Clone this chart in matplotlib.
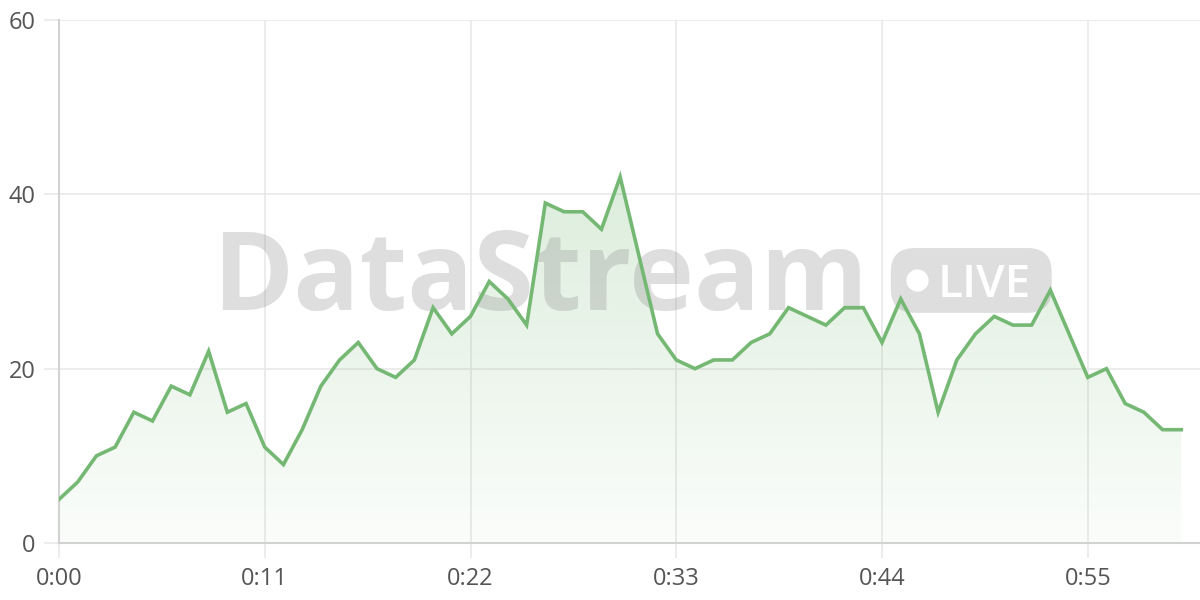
import numpy as np
import matplotlib.pyplot as plt
from matplotlib.patches import FancyBboxPatch
from matplotlib.ticker import MultipleLocator, FuncFormatter

# dados (um ponto por segundo)
segundos = list(range(61))
valores = [5, 7, 10, 11, 15, 14, 18, 17, 22, 15,
           16, 11, 9, 13, 18, 21, 23, 20, 19, 21,
           27, 24, 26, 30, 28, 25, 39, 38, 38, 36,
           42, 33, 24, 21, 20, 21, 21, 23, 24, 27,
           26, 25, 27, 27, 23, 28, 24, 15, 21, 24,
           26, 25, 25, 29, 24, 19, 20, 16, 15, 13, 13]
y_ticks = [0, 20, 40, 60]

cor_linha = "#74b874"
cor_grade = "#e9e9e9"
cor_eixo = "#d2d2d2"
cor_texto = "#555555"
fonte = ["Open Sans", "DejaVu Sans"]

fig = plt.figure(figsize=(12, 6), dpi=100)
fig.patch.set_facecolor("white")
ax = fig.add_axes([59 / 1200, 57 / 600, 1141 / 1200, 523 / 600])

x = np.array(segundos, dtype=float)
y = np.array(valores, dtype=float)

ax.set_xlim(0, 61)
ax.set_ylim(0, 60)

# preenchimento em degradê
ymax = y.max()
grad = np.linspace(0.03, 0.25, 256).reshape(-1, 1)
rgba = np.zeros((256, 1, 4))
rgba[..., 0] = 0x74 / 255
rgba[..., 1] = 0xb8 / 255
rgba[..., 2] = 0x74 / 255
rgba[..., 3] = grad
img = ax.imshow(rgba, extent=[x[0], x[-1], 0, ymax], origin="lower",
                aspect="auto", zorder=1, interpolation="bilinear")
poly = ax.fill_between(x, y, 0, color="none", lw=0)
clip = poly.get_paths()[0]
img.set_clip_path(clip, transform=ax.transData)

ax.plot(x, y, color=cor_linha, linewidth=2.6, zorder=4,
        solid_joinstyle="miter")

# grade
ax.xaxis.set_major_locator(MultipleLocator(11))
ax.xaxis.set_major_formatter(FuncFormatter(lambda v, p: f"{int(v) // 60}:{int(v) % 60:02d}"))
ax.set_yticks(y_ticks)
ax.grid(True, color=cor_grade, linewidth=1.2, zorder=0)
ax.set_axisbelow(True)

for s in ["top", "right"]:
    ax.spines[s].set_visible(False)
for s in ["left", "bottom"]:
    ax.spines[s].set_color(cor_eixo)
    ax.spines[s].set_linewidth(1.5)

ax.tick_params(axis="both", length=11, width=1.2, color=cor_grade,
               labelcolor=cor_texto, labelsize=17)
ax.tick_params(axis="y", pad=6)
ax.tick_params(axis="x", pad=6)
for lbl in ax.get_xticklabels() + ax.get_yticklabels():
    lbl.set_family(fonte)

# marca d'água
ax.text(0.134, 0.4455, "DataStream", transform=ax.transAxes,
        ha="left", va="baseline", fontsize=79, fontweight="bold",
        family=fonte, color="#808080", alpha=0.26, zorder=3)

pill = FancyBboxPatch((0.729, 0.440), 0.141, 0.124,
                      boxstyle="round,pad=0,rounding_size=0.021",
                      mutation_aspect=1141 / 523,
                      transform=ax.transAxes, fc="#808080", ec="none",
                      alpha=0.26, zorder=3)
ax.add_patch(pill)
ax.plot([0.752], [0.503], marker="o", markersize=16, color="white",
        markeredgewidth=0, transform=ax.transAxes, zorder=3)
ax.text(0.770, 0.470, "LIVE", transform=ax.transAxes,
        ha="left", va="baseline", fontsize=33, fontweight="semibold",
        family=fonte, color="white", zorder=3)

fig.savefig("out.png", dpi=100, facecolor="white")
